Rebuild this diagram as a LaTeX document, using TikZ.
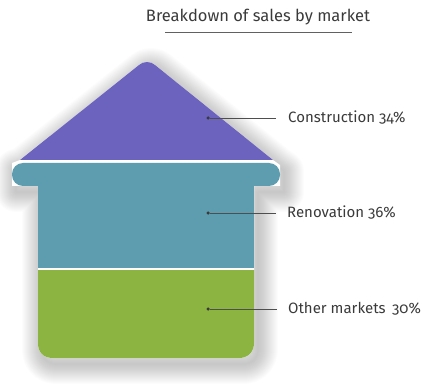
\documentclass[tikz,border=0pt]{standalone}
\usepackage{fontspec}
\setmainfont[Numbers=OldStyle]{Fira Sans}
\definecolor{roofc}{HTML}{6B63BD}
\definecolor{tealc}{HTML}{5E9DB0}
\definecolor{greenc}{HTML}{8BB440}
\definecolor{txtc}{HTML}{3A3A3A}
\tikzset{
  lbl/.style={anchor=west, text=txtc, font=\fontsize{15}{17}\selectfont, inner sep=0pt},
  leader/.style={draw=txtc!90, line width=0.9pt},
  dotc/.style={circle, fill=txtc, inner sep=0pt, minimum size=3.5pt},
  shadowpath/.style={draw=black, line join=round, draw opacity=0.013}
}
\def\housepath{(20,160) -- (139,65) .. controls (143,61) and (151,61) .. (155,65) -- (273,160) -- (280,165) -- (280,186) -- (254,186) -- (254,343) .. controls (254,352) and (248,358) .. (239,358) -- (53,358) .. controls (43,358) and (38,352) .. (38,343) -- (38,186) -- (12,186) -- (12,163) -- cycle}
\begin{document}
\begin{tikzpicture}[x=1pt,y=-1pt]
\useasboundingbox (0,0) rectangle (428,390);
% soft shadow
\begin{scope}[shift={(4,6)}]
\foreach \w in {2,4,...,40} {
  \path[shadowpath, line width=\w pt] \housepath;
}
\end{scope}
% white backing to hide shadow under the house
\path[fill=white] \housepath;
% roof
\path[fill=roofc] (20,160) -- (139,65) .. controls (143,61) and (151,61) .. (155,65) -- (273,160) -- cycle;
% green base
\path[fill=greenc] (38,270) -- (38,343) .. controls (38,352) and (43,358) .. (53,358) -- (239,358) .. controls (248,358) and (254,352) .. (254,343) -- (254,270) -- cycle;
% teal body
\path[fill=tealc] (38,186) rectangle (254,268);
% eave
\path[fill=tealc, rounded corners=11pt] (12,163) rectangle (280,186);
\path[fill=tealc] (38,180) rectangle (254,190);
% title
\node[text=txtc, font=\fontsize{16.5}{19}\selectfont, inner sep=0pt] (title) at (258,17) {Breakdown of sales by market};
\coordinate (ul1) at (165,32);
\coordinate (ul2) at (352,32);
\draw[draw=txtc!80, line width=0.9pt] (ul1) -- (ul2);
% labels
\node[dotc] (d1) at (208,118) {};
\coordinate (e1) at (276,118);
\node[lbl] (l1) at (288,118) {Construction 34\%};
\draw[leader] (d1) -- (e1);
\node[dotc] (d2) at (208,213) {};
\coordinate (e2) at (276,213);
\node[lbl] (l2) at (287,213) {Renovation 36\%};
\draw[leader] (d2) -- (e2);
\node[dotc] (d3) at (208,309) {};
\coordinate (e3) at (277,309);
\node[lbl] (l3) at (288,309) {Other markets\, 30\%};
\draw[leader] (d3) -- (e3);
\end{tikzpicture}
\end{document}
